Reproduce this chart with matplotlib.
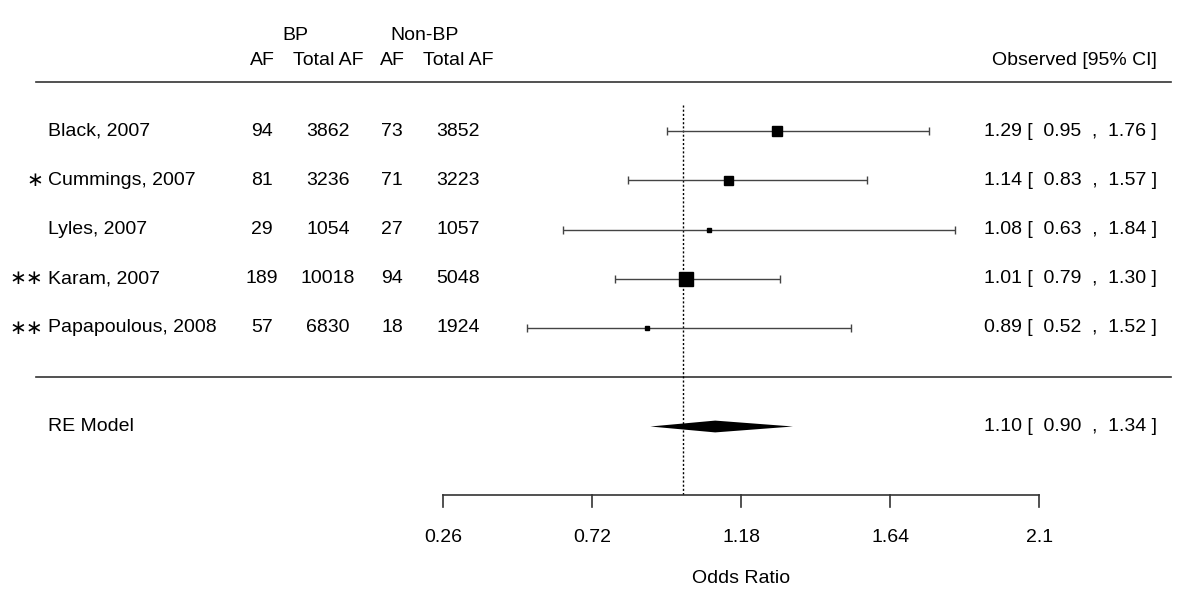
import numpy as np
import matplotlib
matplotlib.use('Agg')
import matplotlib.pyplot as plt

plt.rcParams['font.family'] = ['Liberation Sans', 'DejaVu Sans']

# Study data
studies = ['Black, 2007', 'Cummings, 2007', 'Lyles, 2007', 'Karam, 2007', 'Papapoulous, 2008']
marks = ['', '*', '', '**', '**']
bp_af = [94, 81, 29, 189, 57]
bp_total = [3862, 3236, 1054, 10018, 6830]
non_af = [73, 71, 27, 94, 18]
non_total = [3852, 3223, 1057, 5048, 1924]
or_est = [1.29, 1.14, 1.08, 1.01, 0.89]
ci_lo = [0.95, 0.83, 0.63, 0.79, 0.52]
ci_hi = [1.76, 1.57, 1.84, 1.30, 1.52]
box_px = [10, 9, 5, 14, 4.5]   # square side in pixels (weights)

re_est, re_lo, re_hi = 1.10, 0.90, 1.34
xticks = [0.26, 0.72, 1.18, 1.64, 2.1]
xtick_labels = ['0.26', '0.72', '1.18', '1.64', '2.1']

W, H, DPI = 1200, 606, 100
fig = plt.figure(figsize=(W / DPI, H / DPI), dpi=DPI)
ax = fig.add_axes([0, 0, 1, 1])
ax.axis('off')

# x: odds ratio scale, 324 px per unit, 0.26 at px 443
ppu = 324.0
ax.set_xlim(0.26 - 443 / ppu, 0.26 + (W - 443) / ppu)
# y: row units, row 1 at px 328, 49.25 px per row
rpx = 49.25
ax.set_ylim(1 - (H - 328) / rpx, 1 + 328 / rpx)


def px(x):
    return x / W


fs = 14
lc = '#333333'
k = len(studies)
rows = np.arange(k, 0, -1)
yt = ax.get_yaxis_transform()

# rules
ax.plot([px(36), px(1171)], [6, 6], transform=yt, color=lc, lw=1.2)
ax.plot([px(36), px(1171)], [0, 0], transform=yt, color=lc, lw=1.2)

# reference line at OR = 1
ax.plot([1, 1], [5.53, -2.39], color='black', lw=1, linestyle=(0, (1.5, 1.5)))

# CIs and squares
for i in range(k):
    ax.errorbar(or_est[i], rows[i], xerr=[[or_est[i] - ci_lo[i]], [ci_hi[i] - or_est[i]]],
                fmt='none', ecolor='#444444', elinewidth=1, capsize=3.2, capthick=1)
    ax.plot(or_est[i], rows[i], marker='s', color='black', markersize=box_px[i] * 0.72,
            linestyle='none')

# summary diamond
ry = -1
ax.fill([re_lo, re_est, re_hi, re_est], [ry, ry + 0.12, ry, ry - 0.12], color='black', lw=0)

# x axis
ya = -2.39
ax.plot([xticks[0], xticks[-1]], [ya, ya], color=lc, lw=1.2)
for t, lab in zip(xticks, xtick_labels):
    ax.plot([t, t], [ya, ya - 0.24], color=lc, lw=1.2)
    ax.text(t, -3.25, lab, ha='center', va='center', fontsize=fs)
ax.text(1.18, -4.08, 'Odds Ratio', ha='center', va='center', fontsize=fs)

# headers
ax.text(px(295), 6.93, 'BP', ha='center', va='center', fontsize=fs, transform=yt)
ax.text(px(425), 6.93, 'Non-BP', ha='center', va='center', fontsize=fs, transform=yt)
col_x = [262, 328, 392, 458]
for cx, lab in zip(col_x, ['AF', 'Total AF', 'AF', 'Total AF']):
    ax.text(px(cx), 6.44, lab, ha='center', va='center', fontsize=fs, transform=yt)
ax.text(px(1157), 6.44, 'Observed [95% CI]', ha='right', va='center', fontsize=fs, transform=yt)

# study rows
for i in range(k):
    y = rows[i]
    ax.text(px(48), y, studies[i], ha='left', va='center', fontsize=fs, transform=yt)
    if marks[i]:
        ax.text(px(43), y, marks[i].replace('*', '\u2217'), ha='right', va='center',
                fontsize=14.5, family='DejaVu Sans', transform=yt)
    for cx, v in zip(col_x, [bp_af[i], bp_total[i], non_af[i], non_total[i]]):
        ax.text(px(cx), y, str(v), ha='center', va='center', fontsize=fs, transform=yt)
    ax.text(px(1157), y, f'{or_est[i]:.2f} [  {ci_lo[i]:.2f}  ,  {ci_hi[i]:.2f} ]',
            ha='right', va='center', fontsize=fs, transform=yt)

ax.text(px(48), ry, 'RE Model', ha='left', va='center', fontsize=fs, transform=yt)
ax.text(px(1157), ry, f'{re_est:.2f} [  {re_lo:.2f}  ,  {re_hi:.2f} ]',
        ha='right', va='center', fontsize=fs, transform=yt)

fig.savefig('out.png', dpi=DPI, facecolor='white')
